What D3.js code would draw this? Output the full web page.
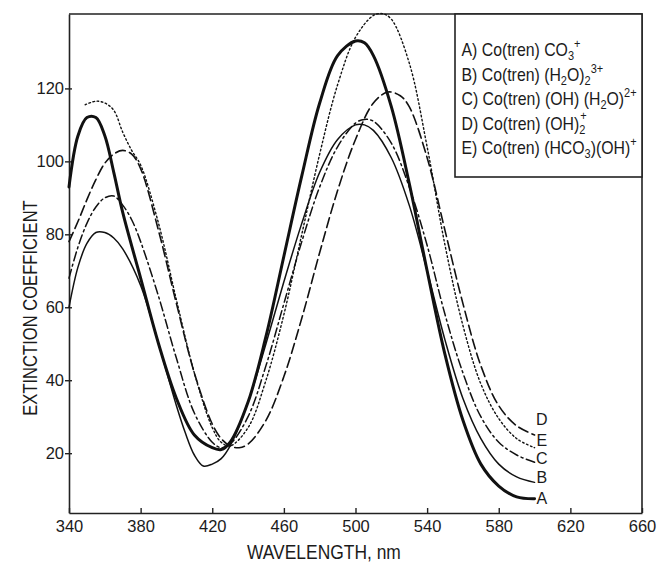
<!DOCTYPE html>
<html>
<head>
<meta charset="utf-8">
<script src="https://cdn.jsdelivr.net/npm/d3@7"></script>
<style>
  body { margin: 0; background: #fff; }
  svg { display: block; }
  text { font-family: "Liberation Sans", Arial, sans-serif; fill: #1b1b1b; }
</style>
</head>
<body>
<svg width="659" height="565"></svg>
<script>
// values (wavelength in nm, extinction coefficient)
const wlA = [340, 345, 350, 355, 360, 365, 370, 380, 390, 400, 410, 420, 425, 430, 440, 450, 460, 470, 480, 490, 500, 505, 510, 520, 530, 540, 550, 560, 570, 580, 590, 600];
const epsA = [93, 107, 112, 112, 107, 97, 86, 68, 50, 35, 25, 21.5, 21, 23, 34, 52, 74, 96, 116, 129, 133, 132.5, 129, 115, 94, 70, 47, 29, 17, 11, 8, 7.5];

const wlB = [340, 345, 350, 355, 360, 365, 370, 380, 390, 400, 405, 410, 415, 420, 425, 430, 440, 450, 460, 470, 480, 490, 500, 505, 510, 520, 530, 540, 550, 560, 570, 580, 590, 600];
const epsB = [60, 71, 77.5, 80.5, 80.5, 79, 76, 66, 50, 33, 25.5, 19.5, 16.5, 17, 18.5, 22, 34, 50, 67, 83, 97, 106, 110, 110, 108.5, 101, 88, 70, 51, 35, 24, 17, 13.5, 12];

const wlC = [340, 345, 350, 355, 360, 365, 370, 375, 380, 390, 400, 410, 420, 425, 430, 440, 450, 460, 470, 480, 490, 500, 505, 510, 520, 530, 540, 550, 560, 570, 580, 590, 600];
const epsC = [68, 76.5, 83, 87.5, 90, 90.5, 88, 84, 78, 63, 46, 31, 23, 21.5, 22.5, 30, 44, 61, 78, 93, 104, 110.5, 111.5, 111, 105, 93, 77, 58, 42, 30, 23, 19.5, 17.5];

const wlD = [340, 345, 350, 355, 360, 365, 370, 375, 380, 390, 400, 410, 420, 425, 430, 435, 440, 450, 460, 470, 480, 490, 500, 510, 518, 525, 530, 540, 550, 560, 570, 580, 590, 600];
const epsD = [78, 83.5, 89.5, 95, 99.5, 102, 103, 102, 98, 81, 61, 42, 28, 24, 22, 21.5, 22.5, 29, 41, 57, 75, 92, 106, 116, 119, 118, 115, 101, 81, 61, 44, 33, 27.5, 25];

const wlE = [349, 355, 360, 365, 370, 375, 380, 390, 400, 410, 420, 425, 430, 440, 450, 460, 470, 480, 490, 500, 510, 515, 520, 530, 540, 550, 560, 570, 580, 590, 600];
const epsE = [115.5, 116.5, 116, 114, 108, 103, 99, 83, 62, 42, 27, 23, 22, 27, 40, 58, 80, 102, 121, 134, 140, 140.5, 139, 127, 104, 77, 55, 39, 29.5, 24, 21.5];

const xTicks = [340, 380, 420, 460, 500, 540, 580, 620, 660];
const yTicks = [20, 40, 60, 80, 100, 120];

// curve tags at the right end
const tagLetters = ['D', 'E', 'C', 'B', 'A'];
const tagWl = [604, 604, 604, 604, 604];
const tagEps = [27.6, 21.9, 16.9, 11.7, 6.2];

// legend entries: [text, kind]  kind: n = normal, sub, sup, over = sup stacked on the sub
const legendRows = [
  [['A) Co(tren) CO', 'n'], ['3', 'sub'], ['+', 'sup']],
  [['B) Co(tren) (H', 'n'], ['2', 'sub'], ['O)', 'n'], ['2', 'sub'], ['3+', 'sup']],
  [['C) Co(tren) (OH) (H', 'n'], ['2', 'sub'], ['O)', 'n'], ['2+', 'sup']],
  [['D) Co(tren) (OH)', 'n'], ['2', 'sub'], ['+', 'over']],
  [['E) Co(tren) (HCO', 'n'], ['3', 'sub'], [')(OH)', 'n'], ['+', 'sup']]
];

const svg = d3.select('svg');

const chartMargins = { left: 69, right: 17, top: 14, bottom: 52 };
const w = 659 - chartMargins.left - chartMargins.right;
const h = 565 - chartMargins.top - chartMargins.bottom;

const xScale = d3.scaleLinear().domain([340, 660]).range([0, w]);
const yScale = d3.scaleLinear().domain([3.6, 140.4]).range([h, 0]);

const chartGroup = svg.append('g')
  .attr('transform', `translate(${chartMargins.left},${chartMargins.top})`);

// frame (top + right)
chartGroup.append('path')
  .attr('d', `M0,0H${w}V${h}`)
  .attr('fill', 'none')
  .attr('stroke', '#222')
  .attr('stroke-width', 1.6);

// x axis, ticks pointing in
const xAxis = d3.axisBottom(xScale).tickValues(xTicks).tickSizeInner(-5).tickSizeOuter(0).tickPadding(7);
const gx = chartGroup.append('g')
  .attr('transform', `translate(0,${h})`)
  .call(xAxis);
gx.select('.domain').attr('stroke', '#222').attr('stroke-width', 1.6);
gx.selectAll('.tick line').attr('stroke', '#222').attr('stroke-width', 1.4);
gx.selectAll('.tick text').style('font-size', '16.5px').attr('fill', '#1b1b1b');

// y axis, small ticks across the axis
const yAxis = d3.axisLeft(yScale).tickValues(yTicks).tickSizeInner(4).tickSizeOuter(0).tickPadding(1);
const gy = chartGroup.append('g').call(yAxis);
gy.select('.domain').attr('stroke', '#222').attr('stroke-width', 1.6);
gy.selectAll('.tick line').attr('x2', -4).attr('x1', 3).attr('stroke', '#222').attr('stroke-width', 1.4);
gy.selectAll('.tick text').style('font-size', '16.5px').attr('fill', '#1b1b1b');

// curves
const line = d3.line()
  .x(d => xScale(d[0]))
  .y(d => yScale(d[1]))
  .curve(d3.curveCatmullRom.alpha(0.5));

function drawCurve(wl, eps, width, dash) {
  chartGroup.append('path')
    .datum(d3.zip(wl, eps))
    .attr('d', line)
    .attr('fill', 'none')
    .attr('stroke', '#111')
    .attr('stroke-width', width)
    .attr('stroke-dasharray', dash)
    .attr('stroke-linecap', 'round');
}

drawCurve(wlB, epsB, 1.5, null);
drawCurve(wlC, epsC, 1.5, '9,3.5,2,3.5');
drawCurve(wlD, epsD, 1.6, '10,4.5');
drawCurve(wlE, epsE, 1.4, '1.6,2.6');
drawCurve(wlA, epsA, 3, null);

// tags
chartGroup.selectAll('text.tag')
  .data(tagLetters)
  .enter()
  .append('text')
  .classed('tag', true)
  .attr('x', (d, i) => xScale(tagWl[i]))
  .attr('y', (d, i) => yScale(tagEps[i]))
  .attr('text-anchor', 'middle')
  .style('font-size', '16px')
  .text(d => d);

// axis titles
svg.append('text')
  .attr('transform', 'translate(247,559) scale(0.83,1)')
  .style('font-size', '21px')
  .text('WAVELENGTH, nm');

svg.append('text')
  .attr('transform', 'translate(37,308) rotate(-90) scale(0.79,1)')
  .attr('text-anchor', 'middle')
  .style('font-size', '21px')
  .text('EXTINCTION COEFFICIENT');

// legend
svg.append('rect')
  .attr('x', 455).attr('y', 14)
  .attr('width', 187).attr('height', 163)
  .attr('fill', '#fff')
  .attr('stroke', '#222')
  .attr('stroke-width', 1.6);

const shift = { n: 0, sub: 4, sup: -8, over: -10 };
legendRows.forEach((row, r) => {
  const t = svg.append('text')
    .attr('transform', `translate(461.5,${56 + r * 24.5}) scale(0.88,1)`)
    .style('font-size', '18px');
  let prev = 0;
  row.forEach(([txt, kind], k) => {
    const s = t.append('tspan')
      .attr('dy', shift[kind] - prev)
      .style('font-size', kind === 'n' ? '18px' : '12.5px')
      .text(txt);
    if (kind === 'over') s.attr('dx', -6);
    prev = shift[kind];
  });
});
</script>
</body>
</html>
